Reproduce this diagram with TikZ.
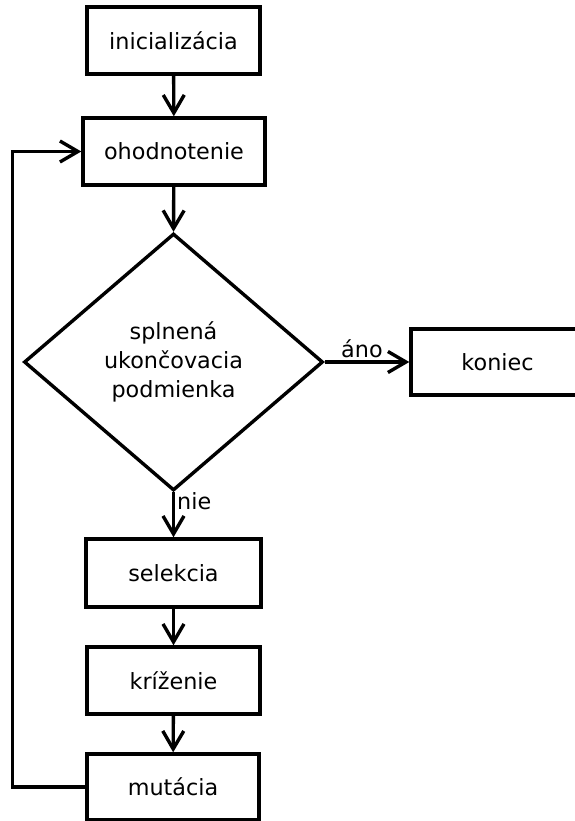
\documentclass[tikz,border=0pt]{standalone}
\usepackage{fontspec}
\setmainfont{DejaVu Sans}
\usetikzlibrary{shapes.geometric,arrows.meta}
\begin{document}
\begin{tikzpicture}[x=1pt,y=1pt,
  every node/.style={font=\fontsize{22.3}{29}\selectfont},
  box/.style={draw,line width=3.4pt,rectangle,inner sep=0pt},
  dec/.style={draw,line width=3.4pt,diamond,inner sep=0pt,align=center},
  conn/.style={line width=3.4pt,-{Straight Barb[length=18pt,width=21pt]}},
  lbl/.style={inner sep=2pt}]
\useasboundingbox (0,0) rectangle (574,-821);
\node[box,minimum width=173pt,minimum height=67pt] (init) at (173.5,-40.5) {inicializácia};
\node[box,minimum width=182pt,minimum height=67pt] (eval) at (174,-151.5) {ohodnotenie};
\node[dec,minimum width=299pt,minimum height=257pt] (cond) at (173.5,-362) {splnená\\ukončovacia\\podmienka};
\node[box,minimum width=173pt,minimum height=66pt] (end) at (497.5,-362) {koniec};
\node[box,minimum width=175pt,minimum height=68pt] (sel) at (173.5,-573) {selekcia};
\node[box,minimum width=173pt,minimum height=67pt] (cross) at (173.5,-680.5) {kríženie};
\node[box,minimum width=172pt,minimum height=66pt] (mut) at (173,-787) {mutácia};
\coordinate (loop) at (12.7,-787);
\draw[conn] (init) -- (eval);
\draw[conn] (eval) -- (cond.north);
\draw[conn] (cond.east) -- node[lbl,above,pos=0.44] {áno} (end.west);
\draw[conn] (cond.south) -- node[lbl,right,pos=0.2] {nie} (sel.north);
\draw[conn] (sel) -- (cross);
\draw[conn] (cross) -- (mut);
\draw[conn] (mut.west) -- (loop) |- (eval.west);
\end{tikzpicture}
\end{document}
